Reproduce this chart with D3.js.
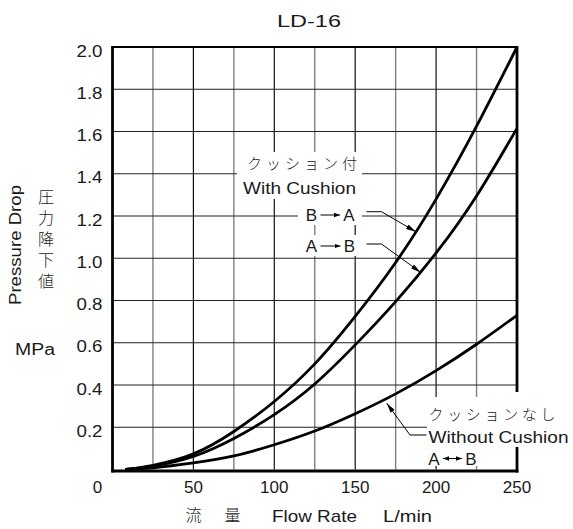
<!DOCTYPE html>
<html>
<head>
<meta charset="utf-8">
<script src="https://cdn.jsdelivr.net/npm/d3@7"></script>
<style>
  html, body { margin: 0; padding: 0; background: #fff; }
  svg { display: block; }
  text { font-family: "Liberation Sans", Arial, Helvetica, sans-serif; fill: #1a1a1a; font-weight: 400; }
  .jp { font-family: "Noto Sans CJK JP", "Noto Sans CJK SC", sans-serif; font-weight: 300; }
</style>
</head>
<body>
<svg id="chart" width="573" height="529"></svg>
<script>
// ---------- data ----------
const title = "LD-16";
const flowRate = [8, 25, 50, 75, 100, 125, 150, 175, 200, 225, 250];
const withCushionBtoA = [0, 0.02, 0.074, 0.18, 0.322, 0.5, 0.725, 0.98, 1.28, 1.625, 2.0];
const withCushionAtoB = [0, 0.016, 0.062, 0.147, 0.26, 0.405, 0.59, 0.795, 1.025, 1.295, 1.615];
const withoutCushion = [0, 0.008, 0.031, 0.064, 0.117, 0.182, 0.264, 0.358, 0.468, 0.593, 0.73];
const xTicks = [50, 100, 150, 200, 250];
const yTicks = [0.2, 0.4, 0.6, 0.8, 1.0, 1.2, 1.4, 1.6, 1.8, 2.0];
const xGrid = [25, 50, 75, 100, 125, 150, 175, 200, 225];
const yGrid = [0.2, 0.4, 0.6, 0.8, 1.0, 1.2, 1.4, 1.6, 1.8];

// ---------- setup ----------
const svg = d3.select("#chart");
const x = d3.scaleLinear().domain([0, 250]).range([112.5, 517]);
const y = d3.scaleLinear().domain([0, 2]).range([469.5, 47]);

// grid
svg.append("g").selectAll("line").data(xGrid).join("line")
  .attr("x1", d => x(d)).attr("x2", d => x(d))
  .attr("y1", y(2)).attr("y2", y(0))
  .attr("stroke", d => d % 50 === 0 ? "#111" : "#808080")
  .attr("stroke-width", d => d % 50 === 0 ? 1.2 : 1.4);
svg.append("g").selectAll("line").data(yGrid).join("line")
  .attr("x1", x(0)).attr("x2", x(250))
  .attr("y1", d => y(d)).attr("y2", d => y(d))
  .attr("stroke", "#222").attr("stroke-width", 1.2);

// curves
const line = d3.line().x(d => x(d[0])).y(d => y(d[1])).curve(d3.curveNatural);
[withCushionBtoA, withCushionAtoB, withoutCushion].forEach(series => {
  svg.append("path")
    .datum(flowRate.map((f, i) => [f, series[i]]))
    .attr("d", line)
    .attr("fill", "none").attr("stroke", "#000").attr("stroke-width", 2.8)
    .attr("stroke-linejoin", "round");
});

// white boxes behind annotation text
const boxes = [
  [237, 152, 125, 47],
  [298, 199, 64, 26],
  [298, 235, 64, 21],
  [427, 397, 148, 50],
  [427, 447, 54, 19]
];
svg.append("g").selectAll("rect").data(boxes).join("rect")
  .attr("x", d => d[0]).attr("y", d => d[1]).attr("width", d => d[2]).attr("height", d => d[3])
  .attr("fill", "#fff");

// frame
svg.append("line").attr("x1", x(0)).attr("x2", x(250)).attr("y1", y(2)).attr("y2", y(2))
  .attr("stroke", "#000").attr("stroke-width", 2.2);
svg.append("line").attr("x1", x(0)).attr("x2", x(0)).attr("y1", y(2) - 1).attr("y2", y(0) + 3)
  .attr("stroke", "#000").attr("stroke-width", 2.8);
svg.append("line").attr("x1", x(250)).attr("x2", x(250)).attr("y1", y(2) - 1).attr("y2", 392)
  .attr("stroke", "#000").attr("stroke-width", 2.8);
svg.append("line").attr("x1", x(250)).attr("x2", x(250)).attr("y1", 447).attr("y2", y(0) + 3)
  .attr("stroke", "#000").attr("stroke-width", 2.8);
svg.append("line").attr("x1", x(0) - 1).attr("x2", x(250) + 1.4).attr("y1", y(0) + 1.5).attr("y2", y(0) + 1.5)
  .attr("stroke", "#000").attr("stroke-width", 2.8);

// axes tick labels
svg.append("g").selectAll("text").data(yTicks).join("text")
  .attr("x", 102.5).attr("y", d => y(d) + 9.7)
  .attr("text-anchor", "end").attr("font-size", 17)
  .attr("textLength", 26).attr("lengthAdjust", "spacingAndGlyphs")
  .text(d => d.toFixed(1));
svg.append("g").selectAll("text").data(xTicks).join("text")
  .attr("x", d => x(d)).attr("y", 493)
  .attr("text-anchor", "middle").attr("font-size", 17)
  .text(d => d);
svg.append("text").attr("x", 97.5).attr("y", 493).attr("text-anchor", "middle")
  .attr("font-size", 17).text("0");

// title
svg.append("text").attr("x", 309).attr("y", 27).attr("text-anchor", "middle")
  .attr("font-size", 17).attr("textLength", 64).attr("lengthAdjust", "spacingAndGlyphs")
  .text(title);

// y-axis titles
svg.append("text").attr("transform", "translate(21,245) rotate(-90)")
  .attr("text-anchor", "middle").attr("font-size", 16)
  .attr("textLength", 120).attr("lengthAdjust", "spacingAndGlyphs")
  .text("Pressure Drop");
svg.append("text").attr("class", "jp")
  .attr("x", 46).attr("y", 189)
  .style("writing-mode", "vertical-rl")
  .style("letter-spacing", "5px")
  .attr("font-size", 16).text("圧力降下値");
svg.append("text").attr("x", 35).attr("y", 355).attr("text-anchor", "middle")
  .attr("font-size", 16).attr("textLength", 40).attr("lengthAdjust", "spacingAndGlyphs")
  .text("MPa");

// x-axis titles
svg.append("text").attr("class", "jp").attr("x", 193.5).attr("y", 521).attr("text-anchor", "middle")
  .attr("font-size", 16).text("流");
svg.append("text").attr("class", "jp").attr("x", 232.5).attr("y", 521).attr("text-anchor", "middle")
  .attr("font-size", 16).text("量");
svg.append("text").attr("x", 272).attr("y", 521.5).attr("font-size", 17)
  .attr("textLength", 85).attr("lengthAdjust", "spacingAndGlyphs").text("Flow Rate");
svg.append("text").attr("x", 383).attr("y", 521.5).attr("font-size", 17)
  .attr("textLength", 49).attr("lengthAdjust", "spacingAndGlyphs").text("L/min");

// annotations
svg.append("text").attr("class", "jp").attr("x", 247).attr("y", 169).attr("font-size", 15)
  .attr("textLength", 110).attr("lengthAdjust", "spacing").text("クッション付");
svg.append("text").attr("x", 243).attr("y", 194.3).attr("font-size", 17)
  .attr("textLength", 113).attr("lengthAdjust", "spacingAndGlyphs").text("With Cushion");
svg.append("text").attr("class", "jp").attr("x", 428.5).attr("y", 420).attr("font-size", 15)
  .attr("textLength", 127).attr("lengthAdjust", "spacing").text("クッションなし");
svg.append("text").attr("x", 428.5).attr("y", 443.3).attr("font-size", 17)
  .attr("textLength", 140).attr("lengthAdjust", "spacingAndGlyphs").text("Without Cushion");

// arrowheads
const defs = svg.append("defs");
function head(id, len, wid) {
  defs.append("marker").attr("id", id).attr("viewBox", `0 0 ${len} ${wid}`)
    .attr("refX", len).attr("refY", wid / 2).attr("markerWidth", len).attr("markerHeight", wid)
    .attr("markerUnits", "userSpaceOnUse").attr("orient", "auto-start-reverse")
    .append("path").attr("d", `M0,0 L${len},${wid / 2} L0,${wid} Z`).attr("fill", "#000");
}
head("ah", 10, 5);
head("sh", 6, 4.5);

// direction labels (letter + small arrow)
function dirLabel(a, b, xa, xb, yc, both) {
  svg.append("text").attr("x", xa).attr("y", yc + 6.2).attr("font-size", 17)
    .attr("text-anchor", "middle").text(a);
  svg.append("text").attr("x", xb).attr("y", yc + 6.2).attr("font-size", 17)
    .attr("text-anchor", "middle").text(b);
  const l = svg.append("line").attr("x1", xa + 9).attr("x2", xb - 9)
    .attr("y1", yc).attr("y2", yc).attr("stroke", "#000").attr("stroke-width", 1)
    .attr("marker-end", "url(#sh)");
  if (both) l.attr("marker-start", "url(#sh)");
}
dirLabel("B", "A", 311.5, 349, 215, false);
dirLabel("A", "B", 311.5, 349.5, 246, false);
dirLabel("A", "B", 434, 471, 458.5, true);

// leader lines pointing at curves
function interp(series, f) {
  return d3.scaleLinear().domain(flowRate).range(series)(f);
}
function leader(points) {
  svg.append("path").attr("d", d3.line()(points))
    .attr("fill", "none").attr("stroke", "#000").attr("stroke-width", 1)
    .attr("marker-end", "url(#ah)");
}
leader([[366.5, 211.7], [381.5, 211.7], [x(187.5), y(interp(withCushionBtoA, 187.5)) + 1]]);
leader([[366.5, 244], [381.5, 244], [x(190.5), y(interp(withCushionAtoB, 190.5)) + 1]]);
leader([[426.5, 435], [410, 435], [x(169.5), y(interp(withoutCushion, 169.5)) + 5]]);
</script>
</body>
</html>
